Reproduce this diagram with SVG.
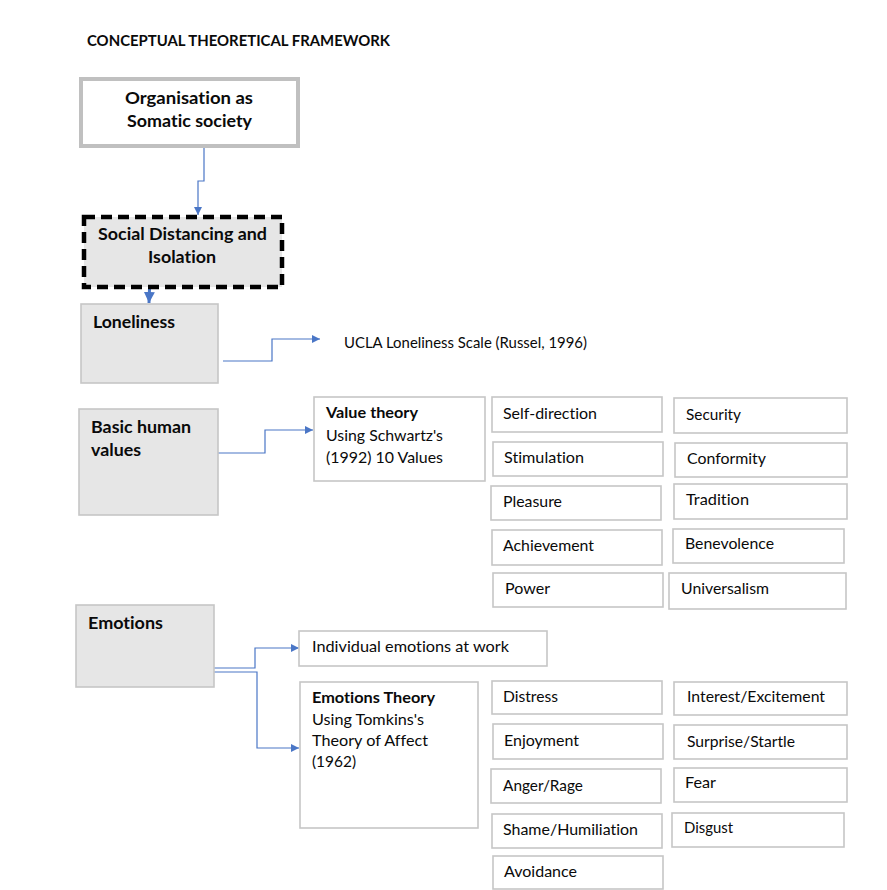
<svg xmlns="http://www.w3.org/2000/svg" width="887" height="890" viewBox="0 0 887 890">
  <style>
    .t { font-family: Lato, "Open Sans", "Liberation Sans", sans-serif; font-size: 16px; fill: #0a0a0a; font-variant-ligatures: none; }
    .b { font-weight: bold; font-size: 17px; }
    .title { font-weight: bold; font-size: 15px; }
    .box { fill: #ffffff; stroke: #c6c6c6; stroke-width: 1.6; }
    .gbox { fill: #e6e6e6; stroke: #c6c6c6; stroke-width: 1.6; }
    .conn { fill: none; stroke: #4a76c6; stroke-width: 1.2; }
    .thick { fill: none; stroke: #4a76c6; stroke-width: 3; }
  </style>
  <defs>
    <marker id="arr" viewBox="0 0 10 10" refX="10" refY="5" markerWidth="8" markerHeight="8" markerUnits="userSpaceOnUse" orient="auto">
      <path d="M0,0 L10,5 L0,10 z" fill="#4a76c6"/>
    </marker>
    <marker id="arrBig" viewBox="0 0 10 10" refX="10" refY="5" markerWidth="11" markerHeight="11" markerUnits="userSpaceOnUse" orient="auto">
      <path d="M0,0 L10,5 L0,10 z" fill="#4a76c6"/>
    </marker>
  </defs>

  <rect width="887" height="890" fill="#ffffff"/>

  <text class="t title" x="87" y="46" textLength="303" lengthAdjust="spacingAndGlyphs">CONCEPTUAL THEORETICAL FRAMEWORK</text>

  <!-- connectors -->
  <g id="connectors">
    <path class="conn" d="M204,148 V181 H198 V215" marker-end="url(#arr)"/>
    <path class="thick" d="M150,274 L149,303" marker-end="url(#arrBig)"/>
    <path class="conn" d="M223,361 H272 V339 H320" marker-end="url(#arr)"/>
    <path class="conn" d="M216,453 H265 V430 H313" marker-end="url(#arr)"/>
    <path class="conn" d="M212,668 H255 V648 H299" marker-end="url(#arr)"/>
    <path class="conn" d="M214,672 H257 V748 H299" marker-end="url(#arr)"/>
  </g>

  <g id="organisation">
    <rect x="81" y="79" width="217" height="67" fill="#ffffff" stroke="#c0c0c0" stroke-width="4"/>
    <text class="t b" x="125" y="104" textLength="128" lengthAdjust="spacingAndGlyphs">Organisation as</text>
    <text class="t b" x="127" y="127" textLength="125" lengthAdjust="spacingAndGlyphs">Somatic society</text>
  </g>

  <g id="social-distancing">
    <rect x="84" y="217" width="198" height="70" fill="#e6e6e6" stroke="#000" stroke-width="4.5" stroke-dasharray="11,6"/>
    <text class="t b" x="98" y="240" textLength="169" lengthAdjust="spacingAndGlyphs">Social Distancing and</text>
    <text class="t b" x="148" y="263" textLength="68" lengthAdjust="spacingAndGlyphs">Isolation</text>
  </g>

  <g id="loneliness">
    <rect class="gbox" x="81" y="304" width="137" height="79"/>
    <text class="t b" x="93" y="328" textLength="82" lengthAdjust="spacingAndGlyphs">Loneliness</text>
  </g>

  <g id="ucla">
    <text class="t" x="344" y="348" font-size="15" textLength="243" lengthAdjust="spacingAndGlyphs">UCLA Loneliness Scale (Russel, 1996)</text>
  </g>

  <g id="basic-values">
    <rect class="gbox" x="79" y="409" width="139" height="106"/>
    <text class="t b" x="91" y="433" textLength="100" lengthAdjust="spacingAndGlyphs">Basic human</text>
    <text class="t b" x="91" y="456" textLength="50" lengthAdjust="spacingAndGlyphs">values</text>
  </g>

  <g id="value-theory">
    <rect class="box" x="314" y="397" width="171" height="84"/>
    <text class="t" x="326" y="418" font-weight="bold" textLength="92" lengthAdjust="spacingAndGlyphs">Value theory</text>
    <text class="t" x="326" y="441" textLength="117" lengthAdjust="spacingAndGlyphs">Using Schwartz's</text>
    <text class="t" x="326" y="463" textLength="117" lengthAdjust="spacingAndGlyphs">(1992) 10 Values</text>
  </g>

  <!-- Schwartz values -->
  <g id="self-direction"><rect class="box" x="492" y="397" width="170" height="35"/><text class="t" x="503" y="419" textLength="94" lengthAdjust="spacingAndGlyphs">Self-direction</text></g>
  <g id="stimulation"><rect class="box" x="493" y="442" width="170" height="34"/><text class="t" x="504" y="463" textLength="80" lengthAdjust="spacingAndGlyphs">Stimulation</text></g>
  <g id="pleasure"><rect class="box" x="491" y="486" width="170" height="34"/><text class="t" x="503" y="507" textLength="59" lengthAdjust="spacingAndGlyphs">Pleasure</text></g>
  <g id="achievement"><rect class="box" x="492" y="530" width="170" height="35"/><text class="t" x="503" y="551" textLength="91" lengthAdjust="spacingAndGlyphs">Achievement</text></g>
  <g id="power"><rect class="box" x="493" y="573" width="170" height="34"/><text class="t" x="505" y="594" textLength="45" lengthAdjust="spacingAndGlyphs">Power</text></g>

  <g id="security"><rect class="box" x="674" y="398" width="173" height="35"/><text class="t" x="686" y="420" textLength="55" lengthAdjust="spacingAndGlyphs">Security</text></g>
  <g id="conformity"><rect class="box" x="675" y="443" width="172" height="34"/><text class="t" x="687" y="464" textLength="79" lengthAdjust="spacingAndGlyphs">Conformity</text></g>
  <g id="tradition"><rect class="box" x="674" y="484" width="173" height="35"/><text class="t" x="686" y="505" textLength="63" lengthAdjust="spacingAndGlyphs">Tradition</text></g>
  <g id="benevolence"><rect class="box" x="673" y="529" width="171" height="34"/><text class="t" x="685" y="549" textLength="89" lengthAdjust="spacingAndGlyphs">Benevolence</text></g>
  <g id="universalism"><rect class="box" x="669" y="573" width="177" height="36"/><text class="t" x="681" y="594" textLength="88" lengthAdjust="spacingAndGlyphs">Universalism</text></g>

  <g id="emotions">
    <rect class="gbox" x="76" y="605" width="138" height="82"/>
    <text class="t b" x="88" y="629" textLength="75" lengthAdjust="spacingAndGlyphs">Emotions</text>
  </g>

  <g id="individual-emotions">
    <rect class="box" x="299" y="631" width="248" height="35"/>
    <text class="t" x="312" y="652" textLength="197" lengthAdjust="spacingAndGlyphs">Individual emotions at work</text>
  </g>

  <g id="emotions-theory">
    <rect class="box" x="300" y="682" width="178" height="146"/>
    <text class="t" x="312" y="703" font-weight="bold" textLength="123" lengthAdjust="spacingAndGlyphs">Emotions Theory</text>
    <text class="t" x="312" y="725" textLength="112" lengthAdjust="spacingAndGlyphs">Using Tomkins's</text>
    <text class="t" x="312" y="746" textLength="116" lengthAdjust="spacingAndGlyphs">Theory of Affect</text>
    <text class="t" x="312" y="767" textLength="44" lengthAdjust="spacingAndGlyphs">(1962)</text>
  </g>

  <!-- Tomkins affects -->
  <g id="distress"><rect class="box" x="492" y="681" width="170" height="33"/><text class="t" x="503" y="702" textLength="55" lengthAdjust="spacingAndGlyphs">Distress</text></g>
  <g id="enjoyment"><rect class="box" x="493" y="724" width="170" height="35"/><text class="t" x="504" y="746" textLength="75" lengthAdjust="spacingAndGlyphs">Enjoyment</text></g>
  <g id="anger"><rect class="box" x="491" y="769" width="170" height="34"/><text class="t" x="503" y="791" textLength="80" lengthAdjust="spacingAndGlyphs">Anger/Rage</text></g>
  <g id="shame"><rect class="box" x="492" y="814" width="170" height="34"/><text class="t" x="503" y="835" textLength="135" lengthAdjust="spacingAndGlyphs">Shame/Humiliation</text></g>
  <g id="avoidance"><rect class="box" x="493" y="856" width="170" height="33"/><text class="t" x="504" y="877" textLength="73" lengthAdjust="spacingAndGlyphs">Avoidance</text></g>

  <g id="interest"><rect class="box" x="674" y="682" width="173" height="33"/><text class="t" x="687" y="702" textLength="138" lengthAdjust="spacingAndGlyphs">Interest/Excitement</text></g>
  <g id="surprise"><rect class="box" x="674" y="725" width="173" height="34"/><text class="t" x="687" y="747" textLength="108" lengthAdjust="spacingAndGlyphs">Surprise/Startle</text></g>
  <g id="fear"><rect class="box" x="674" y="768" width="173" height="34"/><text class="t" x="685" y="788" textLength="31" lengthAdjust="spacingAndGlyphs">Fear</text></g>
  <g id="disgust"><rect class="box" x="672" y="813" width="172" height="34"/><text class="t" x="684" y="833" textLength="49" lengthAdjust="spacingAndGlyphs">Disgust</text></g>
</svg>
